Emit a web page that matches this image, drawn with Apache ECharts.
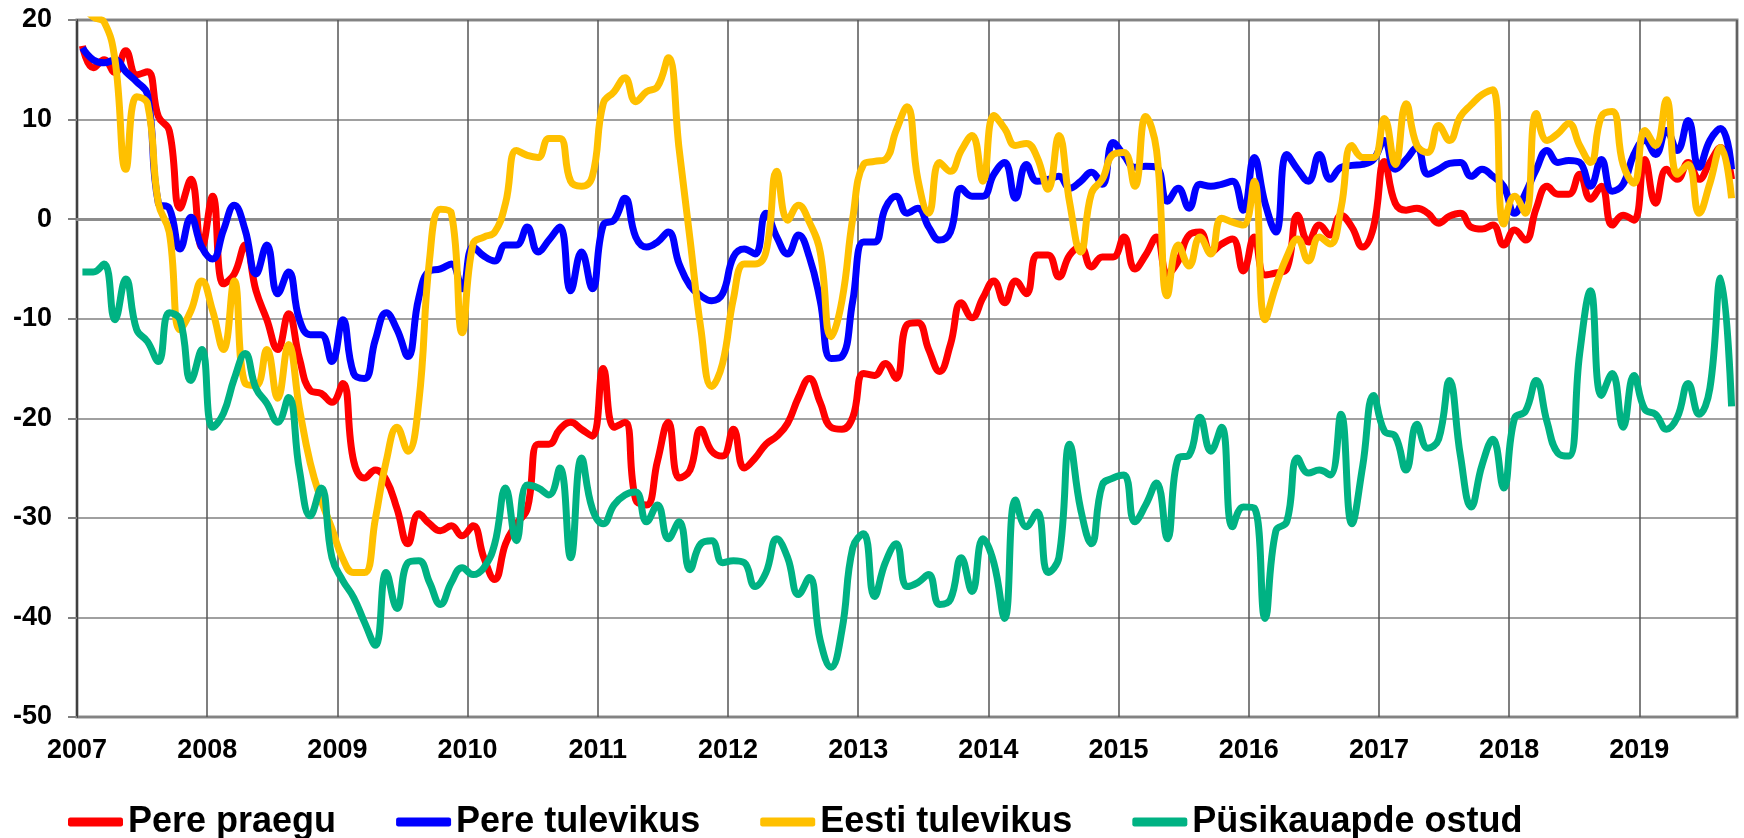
<!DOCTYPE html>
<html lang="et">
<head>
    <meta charset="UTF-8">
    <title>Tarbijabaromeeter</title>
    <script src="https://cdn.jsdelivr.net/npm/echarts@6/dist/echarts.min.js"></script>
    <style>
        html, body { margin: 0; padding: 0; background: #fff; }
        #main { width: 1744px; height: 838px; }
    </style>
</head>
<body>
<div id="main"></div>
<script>
    // kuised andmed, jaanuar 2007 - september 2019
    var yearTicks = ['2007', '2008', '2009', '2010', '2011', '2012', '2013', '2014', '2015', '2016', '2017', '2018', '2019']
    var names = ['Pere praegu', 'Pere tulevikus', 'Eesti tulevikus', 'Püsikauapde ostud']

    var perePraegu = [
        17.4, 15.2, 16, 14.7, 16.9, 14.5, 14.8, 10.3, 8.9, 1.1, 4.0, -2.8,
        2.3, -6.5, -5.5, -2.6, -7.2, -10.1, -13.1, -9.5, -14, -17.2, -17.5, -18.4,
        -16.5, -24.3, -26, -25.2, -26.2, -29.1, -32.6, -29.6, -30.6, -31.3, -30.8, -31.8,
        -30.8, -34, -36.2, -32.6, -30.6, -29.1, -22.6, -22.6, -21.1, -20.4, -21.1, -21.8,
        -15, -20.9, -20.4, -28.2, -28.7, -24.3, -20.4, -26, -25.2, -21.1, -23.3, -23.8,
        -21.1, -25, -24, -22.6, -21.8, -20.5, -17.9, -16, -18.4, -20.9, -21.1, -19.9,
        -15.5, -15.7, -14.5, -16, -10.6, -10.4, -13.1, -15.3, -12.6, -8.4, -9.9, -7.9,
        -6.2, -8.4, -6.2, -7.5, -3.6, -3.6, -5.8, -3.6, -2.8, -4.8, -3.8, -3.8,
        -1.8, -5, -3.6, -1.8, -5.5, -4.2, -1.6, -1.3, -3.3, -2.5, -2, -5.2,
        -1.8, -5.6, -5.4, -5, 0.4, -2.3, -0.6, -1.6, 0.4, -0.8, -2.8, -0.8,
        5.8, 1.6, 0.9, 1.1, 0.6, -0.4, 0.3, 0.6, -0.8, -1, -0.6, -2.6,
        -1.1, -2.1, 1.1, 3.3, 2.5, 2.5, 4.5, 2, 3.3, -0.6, 0.4, -0.1,
        6, 1.6, 5, 4, 5.7, 4, 5.7, 7.2, 4
    ]

    var pereTulevikus = [
        17.2, 16, 15.7, 16, 14.8, 13.8, 12.5, 1.6, 1.1, -3, 0.2, -2.8,
        -4, -1.1, 1.4, -1.1, -5.5, -2.6, -7.5, -5.3, -10.1, -11.6, -11.6, -14.3,
        -10.1, -15.5, -16, -12.1, -9.4, -11.1, -13.8, -7.9, -5.2, -5, -4.5, -7,
        -2.8, -3.7, -4.2, -2.6, -2.6, -0.8, -3.3, -2.1, -0.8, -7.2, -3.3, -7,
        -0.6, -0.1, 2.1, -1.8, -2.8, -2.3, -1.3, -4.5, -6.7, -7.7, -8.2, -7.5,
        -3.8, -3, -3.5, 0.6, -1.8, -3.5, -1.6, -3.8, -8.2, -14, -13.8, -8.2,
        -2.3, -2.3, 1.1, 2.3, 0.6, 1.1, -0.8, -2.1, -1.3, 3.1, 2.3, 2.3,
        4.5, 5.7, 2.1, 5.5, 3.8, 4, 4.3, 3.1, 3.8, 4.7, 3.5, 7.7,
        6.4, 5.2, 5.3, 5.2, 1.8, 3.1, 1.1, 3.5, 3.3, 3.5, 3.8, 0.9,
        6.2, 1.6, -1.3, 6.5, 5, 3.8, 6.5, 4, 5.2, 5.4, 5.5, 6,
        7.9, 5, 6, 7.2, 4.5, 5, 5.6, 5.7, 4.3, 5, 4.3, 3.3,
        0.6, 2.6, 5, 6.9, 5.7, 5.9, 5.7, 3.3, 6, 2.8, 3.5, 6.5,
        7.9, 6.5, 8.9, 6.9, 9.9, 5.2, 7.9, 9.1, 5
    ]

    var eestiTulevikus = [
        21.5, 20.3, 19.8, 16, 5, 12.3, 11.6, 1.6, -1.3, -11.1, -9.2, -6.2,
        -9.2, -13.1, -6.2, -16.5, -16.7, -13.1, -18, -12.6, -19, -24.5, -28.2, -31.1,
        -34.1, -35.5, -35.5, -30.1, -24.3, -20.9, -23.3, -18.4, -4, 1, 0.6, -11.4,
        -2.5, -1.8, -1.3, 1.6, 6.9, 6.4, 6.2, 8.1, 8.1, 3.8, 3.3, 4.3,
        11.6, 12.8, 14.2, 11.8, 12.8, 13.3, 16.2, 7, -2, -11, -16.8, -14.5,
        -8, -4.5, -4.5, -3.3, 4.8, -0.1, 1.4, -0.3, -3.3, -11.8, -8.2, 0.1,
        5.5, 5.8, 6, 8.9, 11.3, 4, 0.6, 5.7, 4.8, 6.9, 8.4, 3.8,
        10.4, 9.1, 7.4, 7.6, 6.2, 3, 8.4, 1.6, -3.3, 2.6, 4, 6.5,
        6.7, 3.3, 10.3, 6.9, -7.7, -2.6, -4.7, -1.8, -3.5, 0.1, -0.3, -0.6,
        3.8, -10.1, -6.7, -3.8, -2, -4.2, -1.8, -2.5, 1.1, 7.4, 6.2, 6.2,
        10.1, 5.5, 11.6, 7.4, 6.7, 9.4, 7.9, 10.3, 11.5, 12.5, 13, -0.5,
        2.3, 0.6, 10.6, 7.9, 8.6, 9.6, 7.4, 5.7, 10.3, 10.8, 5.5, 3.6,
        8.9, 7.4, 12, 4.5, 5.5, 0.6, 3.6, 7.2, 2.1
    ]

    var pusikaupadeOstud = [
        -5.3, -5.3, -4.5, -10.1, -6, -11.1, -12.3, -14.3, -9.4, -10.1, -16.2, -13.1,
        -20.9, -19.5, -16, -13.5, -17, -18.5, -20.4, -17.9, -25.2, -29.8, -27, -34,
        -36.3, -38, -40.5, -42.8, -35.5, -39.1, -34.5, -34.3, -36.5, -38.7, -36.5, -35,
        -35.7, -35, -32.6, -27, -32.3, -26.7, -27, -27.7, -25, -34, -24, -29.1,
        -30.6, -28.7, -27.7, -27.4, -30.4, -28.7, -32.1, -30.4, -35.2, -32.6, -32.3, -34.5,
        -34.3, -34.5, -36.9, -35.5, -32.1, -34, -37.7, -36, -42.3, -45, -41.3, -33,
        -31.6, -37.9, -34.5, -32.6, -36.9, -36.5, -35.7, -38.7, -38.2, -34, -37.4, -32.1,
        -34.5, -40.1, -28.2, -30.9, -29.4, -35.5, -34, -22.6, -29.1, -32.6, -26.7, -26,
        -25.7, -30.4, -28.7, -26.5, -32.1, -24, -23.7, -19.9, -23.3, -20.9, -30.9, -28.9,
        -29, -40.1, -31.3, -30.4, -24, -25.5, -25.2, -25.7, -19.6, -30.6, -24.8, -17.7,
        -21.3, -21.8, -25.2, -20.6, -23, -22.1, -16.2, -23.7, -28.9, -24.7, -22.1, -27,
        -20, -19.3, -16.2, -20.4, -23.5, -23.8, -13.5, -7.2, -17.7, -15.5, -20.9, -15.7,
        -19.1, -19.6, -21.1, -19.9, -16.5, -19.6, -17, -5.9, -18.8
    ]

    var colors = ['#ff0000', '#0000ff', '#ffc000', '#00b283']
    var font = '"Liberation Sans", Arial, sans-serif'

    // iga kuu punkt on kuu keskel
    function toPoints(arr) {
        return arr.map(function (v, k) { return [k + 0.5, v] })
    }

    var seriesData = [perePraegu, pereTulevikus, eestiTulevikus, pusikaupadeOstud]

    var option = {
        animation: false,
        color: colors,
        grid: {
            left: 77, right: 7, top: 20, bottom: 121,
            show: true, borderColor: '#8c8c8c', borderWidth: 3
        },
        legend: {
            data: names,
            left: 63,
            top: 799,
            itemGap: 60,
            itemWidth: 55,
            itemHeight: 9,
            icon: 'roundRect',
            textStyle: { fontSize: 36, fontWeight: 'bold', color: '#000', fontFamily: font }
        },
        xAxis: {
            type: 'value',
            min: 0,
            max: 153,
            interval: 12,
            axisLine: { lineStyle: { color: '#8c8c8c', width: 3 } },
            axisTick: { show: false },
            splitLine: { lineStyle: { color: '#555', width: 1.5 } },
            axisLabel: {
                margin: 20,
                fontSize: 27,
                fontWeight: 'bold',
                color: '#000',
                fontFamily: font,
                formatter: function (v) {
                    var idx = v / 12
                    return (v % 12 === 0 && yearTicks[idx]) ? yearTicks[idx] : ''
                }
            }
        },
        yAxis: {
            type: 'value',
            min: -50,
            max: 20,
            interval: 10,
            axisLine: { show: true, lineStyle: { color: '#404040', width: 2 } },
            axisTick: { show: true, length: 9, lineStyle: { color: '#808080', width: 2 } },
            splitLine: { lineStyle: { color: '#808080', width: 1.5 } },
            axisLabel: { margin: 25, fontSize: 27, fontWeight: 'bold', color: '#000', fontFamily: font }
        },
        series: names.map(function (name, i) {
            return {
                name: name,
                type: 'line',
                data: toPoints(seriesData[i]),
                smooth: 0.45,
                symbol: 'none',
                clip: true,
                lineStyle: { width: 7, color: colors[i] },
                itemStyle: { color: colors[i] }
            }
        })
    }

    var myChart = echarts.init(document.getElementById('main'))
    myChart.setOption(option)
</script>
</body>
</html>
